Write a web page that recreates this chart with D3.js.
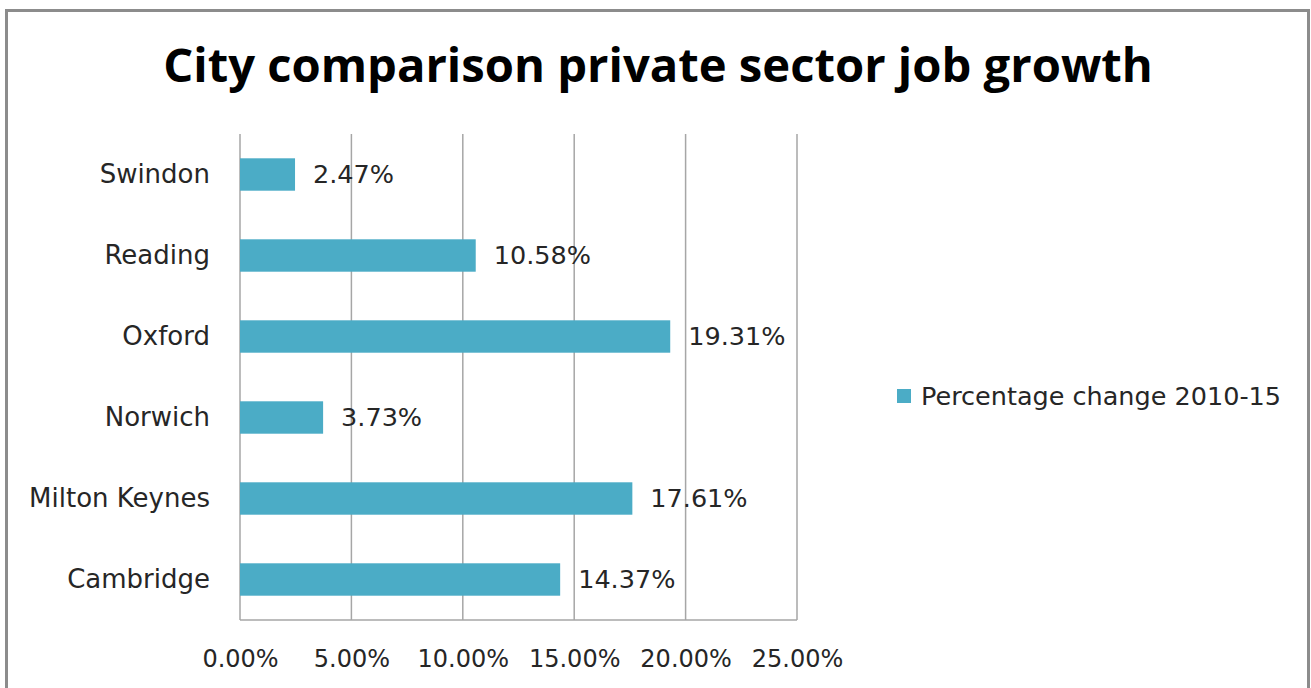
<!DOCTYPE html>
<html>
<head>
<meta charset="utf-8">
<script src="https://cdn.jsdelivr.net/npm/d3@7"></script>
<style>
  body { margin: 0; background: #fff; }
  text { font-family: "DejaVu Sans", sans-serif; fill: #262626; }
</style>
</head>
<body>
<div id="chart-area"></div>
<script>

// SVG Size
var width = 1311,
	height = 688;

// chart values
var cities = ["Cambridge", "Milton Keynes", "Norwich", "Oxford", "Reading", "Swindon"];
var changes = [14.37, 17.61, 3.73, 19.31, 10.58, 2.47];
var tickValues = [0, 5, 10, 15, 20, 25];
var seriesName = "Percentage change 2010-15";
var title = "City comparison private sector job growth";

var barColor = "#4BACC6";
var labelFont = "'DejaVu Sans', sans-serif";

var data = cities.map(function (c, i) { return {city: c, value: changes[i]}; });

var svg = d3.select("#chart-area")
	.append("svg")
	.attr("width", width)
	.attr("height", height);

// outer frame
svg.append("rect")
	.attr("x", 6.5).attr("y", 10.5)
	.attr("width", 1302).attr("height", 700)
	.attr("fill", "none")
	.attr("stroke", "#8c8c8c")
	.attr("stroke-width", 3);

// plot area
var plot = {left: 240, right: 797, top: 134, bottom: 620};

var xScale = d3.scaleLinear()
	.domain([0, 25])
	.range([plot.left, plot.right]);

// first city at the bottom, like Excel
var yScale = d3.scaleBand()
	.domain(cities.slice().reverse())
	.range([plot.top, plot.bottom])
	.paddingInner(0.6)
	.paddingOuter(0.3);

// vertical grid lines
svg.append("g").selectAll("line")
	.data(tickValues)
	.enter()
	.append("line")
	.attr("x1", function (d) { return xScale(d); })
	.attr("x2", function (d) { return xScale(d); })
	.attr("y1", plot.top)
	.attr("y2", plot.bottom)
	.attr("stroke", "#a6a6a6")
	.attr("stroke-width", 1.5);

// bottom axis line
svg.append("line")
	.attr("x1", plot.left).attr("x2", plot.right)
	.attr("y1", plot.bottom).attr("y2", plot.bottom)
	.attr("stroke", "#a6a6a6")
	.attr("stroke-width", 1.5);

// x axis labels
var xAxis = d3.axisBottom(xScale)
	.tickValues(tickValues)
	.tickSize(0)
	.tickPadding(30)
	.tickFormat(function (d) { return d.toFixed(2) + "%"; });

var gx = svg.append("g")
	.attr("transform", "translate(0," + plot.bottom + ")")
	.call(xAxis);
gx.select(".domain").remove();
gx.selectAll("text")
	.style("font-family", labelFont)
	.style("font-size", "24px")
	.attr("fill", "#262626");

// y axis labels
var yAxis = d3.axisLeft(yScale)
	.tickSize(0)
	.tickPadding(30);

var gy = svg.append("g")
	.attr("transform", "translate(" + plot.left + ",0)")
	.call(yAxis);
gy.select(".domain").remove();
gy.selectAll("text")
	.style("font-family", labelFont)
	.style("font-size", "26px")
	.attr("fill", "#262626");

// bars
svg.selectAll("rect.bar")
	.data(data)
	.enter()
	.append("rect")
	.attr("class", "bar")
	.attr("x", xScale(0))
	.attr("y", function (d) { return yScale(d.city); })
	.attr("width", function (d) { return xScale(d.value) - xScale(0); })
	.attr("height", yScale.bandwidth())
	.attr("fill", barColor);

// value labels
svg.selectAll("text.value")
	.data(data)
	.enter()
	.append("text")
	.attr("class", "value")
	.attr("x", function (d) { return xScale(d.value) + 18; })
	.attr("y", function (d) { return yScale(d.city) + yScale.bandwidth() / 2; })
	.attr("dy", "0.35em")
	.style("font-size", "25.5px")
	.text(function (d) { return d.value.toFixed(2) + "%"; });

// title, fitted to the width it has in the picture
var titleText = svg.append("text")
	.attr("x", 658)
	.attr("y", 82)
	.attr("text-anchor", "middle")
	.style("font-family", "'Open Sans', sans-serif")
	.style("font-weight", "bold")
	.style("font-size", "44px")
	.style("fill", "#000")
	.text(title);
var tw = titleText.node().getComputedTextLength();
titleText.style("font-size", (44 * 990 / tw) + "px");

// legend
var legend = svg.append("g")
	.attr("transform", "translate(897,389)");
legend.append("rect")
	.attr("width", 14).attr("height", 14)
	.attr("fill", barColor);
legend.append("text")
	.attr("x", 24).attr("y", 7)
	.attr("dy", "0.35em")
	.style("font-size", "25.5px")
	.text(seriesName);

</script>
</body>
</html>
